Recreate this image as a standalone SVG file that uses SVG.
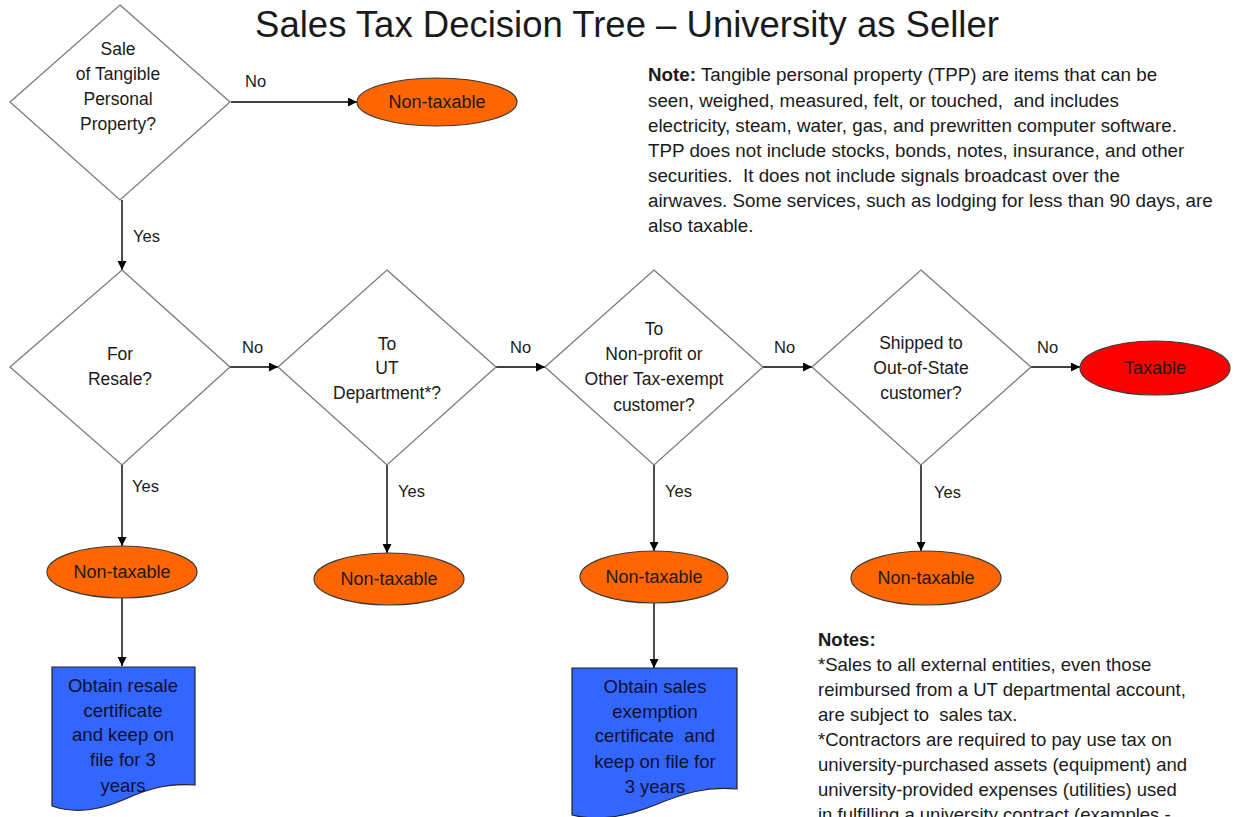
<svg xmlns="http://www.w3.org/2000/svg" width="1235" height="817" viewBox="0 0 1235 817">
<defs>
<marker id="ah" viewBox="0 0 10 10" refX="10" refY="5" markerWidth="10" markerHeight="9" markerUnits="userSpaceOnUse" orient="auto">
<path d="M0,0 L10,5 L0,10 Z" fill="#000"/>
</marker>
<style>
text{font-family:"Liberation Sans",Arial,sans-serif;fill:#1a1a1a}
.dia{fill:#fff;stroke:#7a7a7a;stroke-width:1.3}
.q{font-size:17.5px;text-anchor:middle}
.ell{fill:#ff6600;stroke:#3a3a3a;stroke-width:1.2}
.tax{fill:#ff0000;stroke:#3a3a3a;stroke-width:1.2}
.et{font-size:18px;text-anchor:middle;fill:#1a1a1a}
.doc{fill:#3366ff;stroke:#222;stroke-width:1.2}
.dt{font-size:18.5px;text-anchor:middle;fill:#101030}
.lbl{font-size:16.5px}
.con line{stroke:#000;stroke-width:1.4;marker-end:url(#ah)}
.nt{font-size:18.8px}
.ns{font-size:18.5px}
</style>
</defs>
<rect width="1235" height="817" fill="#fff"/>
<text x="627" y="37" text-anchor="middle" style="font-size:36.5px">Sales Tax Decision Tree – University as Seller</text>

<g id="connectors" class="con">
<line x1="231" y1="102" x2="357" y2="102"/>
<line x1="122" y1="200" x2="122" y2="270"/>
<line x1="230" y1="367" x2="278" y2="367"/>
<line x1="496" y1="367" x2="545" y2="367"/>
<line x1="763" y1="367" x2="812" y2="367"/>
<line x1="1031" y1="367" x2="1080" y2="367"/>
<line x1="122" y1="465" x2="122" y2="546"/>
<line x1="387" y1="465" x2="387" y2="553"/>
<line x1="654" y1="465" x2="654" y2="551"/>
<line x1="921" y1="465" x2="921" y2="551"/>
<line x1="122" y1="598" x2="122" y2="666"/>
<line x1="654" y1="603" x2="654" y2="668"/>
</g>
<g id="edge-labels" class="lbl">
<text x="245" y="87">No</text>
<text x="133" y="242">Yes</text>
<text x="242" y="353">No</text>
<text x="510" y="353">No</text>
<text x="774" y="353">No</text>
<text x="1037" y="353">No</text>
<text x="132" y="492">Yes</text>
<text x="398" y="497">Yes</text>
<text x="665" y="497">Yes</text>
<text x="934" y="498">Yes</text>
</g>

<g id="q-tpp">
<polygon class="dia" points="120,5 230,102 120,200 10,102"/>
<text class="q" x="118" y="55">Sale</text>
<text class="q" x="118" y="80">of Tangible</text>
<text class="q" x="118" y="105">Personal</text>
<text class="q" x="118" y="130">Property?</text>
</g>
<g id="q-resale">
<polygon class="dia" points="122,270 230,367 122,465 10,367"/>
<text class="q" x="120" y="360">For</text>
<text class="q" x="120" y="385">Resale?</text>
</g>
<g id="q-ut">
<polygon class="dia" points="387,270 496,367 387,465 278,367"/>
<text class="q" x="387" y="350">To</text>
<text class="q" x="387" y="374">UT</text>
<text class="q" x="387" y="399">Department*?</text>
</g>
<g id="q-nonprofit">
<polygon class="dia" points="654,270 763,367 654,465 545,367"/>
<text class="q" x="654" y="335">To</text>
<text class="q" x="654" y="360">Non-profit or</text>
<text class="q" x="654" y="385">Other Tax-exempt</text>
<text class="q" x="654" y="411">customer?</text>
</g>
<g id="q-outofstate">
<polygon class="dia" points="921,270 1031,367 921,465 812,367"/>
<text class="q" x="921" y="349">Shipped to</text>
<text class="q" x="921" y="374">Out-of-State</text>
<text class="q" x="921" y="399">customer?</text>
</g>

<g id="nt-top">
<ellipse class="ell" cx="437" cy="102" rx="80" ry="24"/>
<text class="et" x="437" y="108">Non-taxable</text>
</g>
<g id="taxable">
<ellipse class="tax" cx="1155" cy="368" rx="75" ry="27"/>
<text class="et" x="1155" y="374">Taxable</text>
</g>
<g id="nt-resale">
<ellipse class="ell" cx="122" cy="572" rx="75" ry="26"/>
<text class="et" x="122" y="578">Non-taxable</text>
</g>
<g id="nt-ut">
<ellipse class="ell" cx="389" cy="579" rx="75" ry="26"/>
<text class="et" x="389" y="585">Non-taxable</text>
</g>
<g id="nt-nonprofit">
<ellipse class="ell" cx="654" cy="577" rx="74" ry="26"/>
<text class="et" x="654" y="583">Non-taxable</text>
</g>
<g id="nt-outofstate">
<ellipse class="ell" cx="926" cy="578" rx="75" ry="27"/>
<text class="et" x="926" y="584">Non-taxable</text>
</g>

<g id="doc-resale">
<path class="doc" d="M52,667 H195 V785 C165,783 145,790 123,800 C100,810 75,814 52,806 Z"/>
<text class="dt" x="123" y="692">Obtain resale</text>
<text class="dt" x="123" y="717">certificate</text>
<text class="dt" x="123" y="741">and keep on</text>
<text class="dt" x="123" y="766">file for 3</text>
<text class="dt" x="123" y="792">years</text>
</g>
<g id="doc-exempt">
<path class="doc" d="M572,668 H737 V789 C705,786 682,794 655,805 C628,816 600,822 572,815 Z"/>
<text class="dt" x="655" y="693">Obtain sales</text>
<text class="dt" x="655" y="718">exemption</text>
<text class="dt" x="655" y="742" xml:space="preserve">certificate  and</text>
<text class="dt" x="655" y="768">keep on file for</text>
<text class="dt" x="655" y="793">3 years</text>
</g>

<g id="note-tpp" class="nt">
<text x="648" y="81"><tspan font-weight="bold">Note:</tspan> Tangible personal property (TPP) are items that can be</text>
<text x="648" y="107" xml:space="preserve">seen, weighed, measured, felt, or touched,  and includes</text>
<text x="648" y="132">electricity, steam, water, gas, and prewritten computer software.</text>
<text x="648" y="157">TPP does not include stocks, bonds, notes, insurance, and other</text>
<text x="648" y="182" xml:space="preserve">securities.  It does not include signals broadcast over the</text>
<text x="648" y="207">airwaves. Some services, such as lodging for less than 90 days, are</text>
<text x="648" y="232">also taxable.</text>
</g>

<g id="notes" class="ns">
<text x="818" y="646" font-weight="bold">Notes:</text>
<text x="818" y="671">*Sales to all external entities, even those</text>
<text x="818" y="696">reimbursed from a UT departmental account,</text>
<text x="818" y="721" xml:space="preserve">are subject to  sales tax.</text>
<text x="818" y="746">*Contractors are required to pay use tax on</text>
<text x="818" y="771">university-purchased assets (equipment) and</text>
<text x="818" y="796">university-provided expenses (utilities) used</text>
<text x="818" y="821">in fulfilling a university contract (examples -</text>
</g>
</svg>
